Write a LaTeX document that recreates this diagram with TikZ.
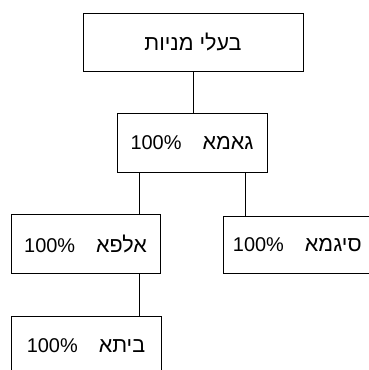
\documentclass[tikz,border=0pt]{standalone}
\usepackage{fontspec}
\setmainfont{Liberation Sans}
\newfontfamily\hebfont[Script=Hebrew,Scale=1.08]{Liberation Sans}
\TeXXeTstate=1
\begin{document}
\begin{tikzpicture}[x=1bp,y=-1bp,
  box/.style={draw, line width=0.9bp, inner sep=0pt, font=\fontsize{20}{22}\selectfont},
  link/.style={line width=0.9bp}]
\useasboundingbox (0,0) rectangle (369,370);
\clip (0,0) rectangle (369,370);
\fill[white] (0,0) rectangle (369,370);
\node[box, minimum width=220bp, minimum height=58bp] (top) at (193,42) {\hebfont\beginR בעלי מניות\endR};
\node[box, minimum width=150bp, minimum height=59bp] (gamma) at (192,142.5) {100\%\hspace{21bp}{\hebfont\beginR גאמא\endR}};
\node[box, minimum width=149bp, minimum height=59bp] (alpha) at (85.5,243.5) {100\%\hspace{21bp}{\hebfont\beginR אלפא\endR}};
\node[box, minimum width=170bp, minimum height=57bp, text width=150bp, align=left] (sigma) at (308,244.5) {100\%\hspace{21bp}{\hebfont\beginR סיגמא\endR}};
\node[box, minimum width=150bp, minimum height=59bp] (beta) at (86,345.5) {100\%\hspace{21bp}{\hebfont\beginR ביתא\endR}};
\draw[link] (top.south) -- (top.south |- gamma.north);
\draw[link] ([xshift=23bp]gamma.south west) -- ([xshift=23bp]gamma.south west |- alpha.north);
\draw[link] ([xshift=-22bp]gamma.south east) -- ([xshift=-22bp]gamma.south east |- sigma.north);
\draw[link] ([xshift=-21bp]alpha.south east) -- ([xshift=-21bp]alpha.south east |- beta.north);
\end{tikzpicture}
\end{document}
